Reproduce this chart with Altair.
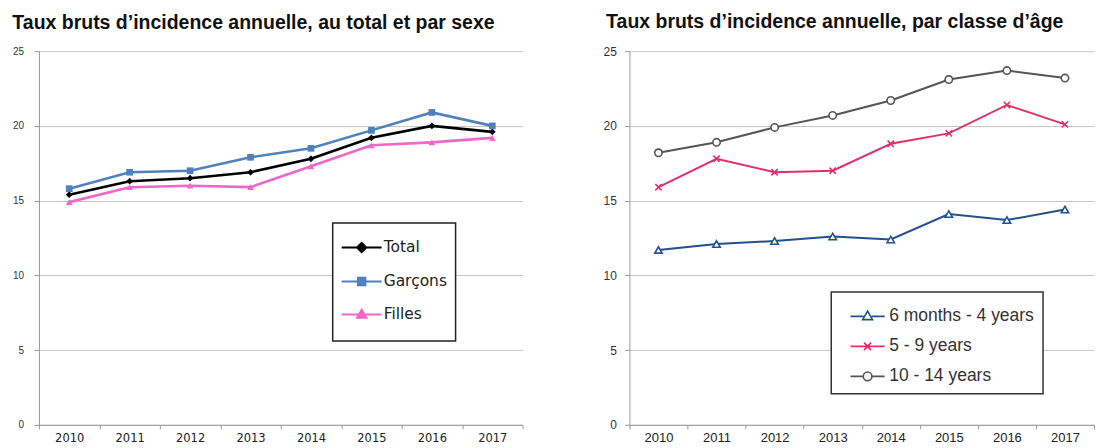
import altair as alt
import pandas as pd

# ---------------- data ----------------
years = ["2010", "2011", "2012", "2013", "2014", "2015", "2016", "2017"]

sex_series = ["Total", "Garçons", "Filles"]
total = [15.4, 16.3, 16.5, 16.9, 17.8, 19.2, 20.0, 19.6]
garcons = [15.8, 16.9, 17.0, 17.9, 18.5, 19.7, 20.9, 20.0]
filles = [14.9, 15.9, 16.0, 15.9, 17.3, 18.7, 18.9, 19.2]

age_series = ["6 months - 4 years", "5 - 9 years", "10 - 14 years"]
age_6m_4y = [11.7, 12.1, 12.3, 12.6, 12.4, 14.1, 13.7, 14.4]
age_5_9 = [15.9, 17.8, 16.9, 17.0, 18.8, 19.5, 21.4, 20.1]
age_10_14 = [18.2, 18.9, 19.9, 20.7, 21.7, 23.1, 23.7, 23.2]

y_ticks = [0, 5, 10, 15, 20, 25]

title_left = "Taux bruts d\u2019incidence annuelle, au total et par sexe"
title_right = "Taux bruts d\u2019incidence annuelle, par classe d\u2019\u00e2ge"

# ---------------- styles ----------------
sex_colors = ["#000000", "#4f81bd", "#f266c8"]
age_colors = ["#23508f", "#e0306a", "#555555"]

sex_point_shapes = ["diamond", "square", "triangle-up"]
X_PATH = "M-1,-1L1,1M-1,1L1,-1"
age_point_shapes = ["triangle-up", X_PATH, "circle"]

# legend symbols: line + marker drawn as one custom path
sex_legend_paths = [
    "M-1,0L1.58,0M0.29,-0.3L0.59,0L0.29,0.3L-0.01,0Z",
    "M-1,0L1.58,0M0.05,-0.24L0.53,-0.24L0.53,0.24L0.05,0.24Z",
    "M-1,0L1.58,0M0.29,-0.3L0.59,0.22L-0.01,0.22Z",
]
age_legend_paths = [
    "M-0.36,0L0.54,0M1.1,0L2.0,0M0.82,-0.36L1.16,0.22L0.48,0.22Z",
    "M-0.36,0L2.0,0M0.58,-0.26L1.06,0.26M0.58,0.26L1.06,-0.26",
    "M-0.36,0L0.52,0M1.12,0L2.0,0M1.12,0A0.3,0.3 0 1,1 0.52,0A0.3,0.3 0 1,1 1.12,0",
]

grid_color = "#c4c4c4"
axis_color = "#9a9a9a"
NBSP = "\u00a0"


def make_df(series_names, arrays):
    rows = []
    for name, vals in zip(series_names, arrays):
        for yr, v in zip(years, vals):
            rows.append({"year": yr, "value": v, "series": name})
    return pd.DataFrame(rows)


df_sex = make_df(sex_series, [total, garcons, filles])
df_age = make_df(age_series, [age_6m_4y, age_5_9, age_10_14])


def x_enc(label_font, label_size, label_padding):
    return alt.X(
        "year:O",
        sort=years,
        scale=alt.Scale(type="band", paddingInner=0, paddingOuter=0),
        axis=alt.Axis(
            title=None, labelAngle=0, tickBand="extent", grid=False,
            domainColor=axis_color, tickColor=axis_color, tickSize=4,
            labelFont=label_font, labelFontSize=label_size, labelColor="#222222",
            labelPadding=label_padding,
        ),
    )


def y_enc(label_size, label_padding):
    return alt.Y(
        "value:Q",
        scale=alt.Scale(domain=[0, 25], nice=False, zero=True),
        axis=alt.Axis(
            title=None, values=y_ticks, grid=True, gridColor=grid_color, gridWidth=1,
            domainColor=axis_color, tickColor=axis_color, tickSize=5,
            labelFont="Liberation Sans", labelFontSize=label_size, labelColor="#333333",
            labelPadding=label_padding,
        ),
    )


# ---------------- left chart ----------------
xl = x_enc("DejaVu Sans", 11.5, 4)
yl = y_enc(10, 10.5)

left_lines = [
    alt.Chart(df_sex).transform_filter(alt.datum.series == s).mark_line(
        strokeWidth=2.6, color=c
    ).encode(x=xl, y=yl)
    for s, c in zip(sex_series, sex_colors)
]
left_points = [
    alt.Chart(df_sex).transform_filter(alt.datum.series == s).mark_point(
        shape=shp, filled=True, size=45, color=c, opacity=1
    ).encode(x=xl, y=yl)
    for s, shp, c in zip(sex_series, sex_point_shapes, sex_colors)
]
sex_legend = alt.Legend(
    title=NBSP, titleOrient="bottom", titleFontSize=6, titlePadding=4,
    orient="none", legendX=294, legendY=172,
    symbolSize=961, symbolStrokeWidth=2, symbolOpacity=1,
    labelFont="DejaVu Sans", labelFontSize=15.5, labelColor="#222222",
    labelOffset=10, padding=8, rowPadding=8,
    strokeColor="#222222", fillColor="white",
)
left_legend = alt.Chart(df_sex).mark_point(
    filled=True, opacity=0
).encode(
    x=xl, y=yl,
    color=alt.Color("series:N", scale=alt.Scale(domain=sex_series, range=sex_colors), legend=sex_legend),
    stroke=alt.Stroke("series:N", scale=alt.Scale(domain=sex_series, range=sex_colors), legend=sex_legend),
    shape=alt.Shape("series:N", scale=alt.Scale(domain=sex_series, range=sex_legend_paths), legend=sex_legend),
)

left = alt.layer(*left_lines, *left_points, left_legend).properties(
    width=484, height=374,
    title=alt.Title(title_left, anchor="start", frame="bounds", font="Liberation Sans",
                    fontSize=19.5, fontWeight="bold", color="#111111", offset=13),
)

# ---------------- right chart ----------------
xr = x_enc("Liberation Sans", 13, 3)
yr = y_enc(12, 8)

right_lines = [
    alt.Chart(df_age).transform_filter(alt.datum.series == s).mark_line(
        strokeWidth=2, color=c
    ).encode(x=xr, y=yr)
    for s, c in zip(age_series, age_colors)
]
right_points = [
    alt.Chart(df_age).transform_filter(alt.datum.series == s).mark_point(
        shape=shp, filled=True, fill="white", stroke=c, strokeWidth=1.6,
        size=(40 if shp == X_PATH else 55), opacity=1
    ).encode(x=xr, y=yr)
    for s, shp, c in zip(age_series, age_point_shapes, age_colors)
]
age_legend = alt.Legend(
    title=None, orient="none", legendX=202, legendY=241,
    symbolSize=841, symbolStrokeWidth=1.6, symbolOpacity=1,
    labelFont="Liberation Sans", labelFontSize=17.5, labelColor="#333333",
    labelOffset=18, padding=9, rowPadding=6,
    strokeColor="#333333", fillColor="white",
)
right_legend = alt.Chart(df_age).mark_point(
    filled=False, opacity=0
).encode(
    x=xr, y=yr,
    color=alt.Color("series:N", scale=alt.Scale(domain=age_series, range=age_colors), legend=age_legend),
    shape=alt.Shape("series:N", scale=alt.Scale(domain=age_series, range=age_legend_paths), legend=age_legend),
)

right = alt.layer(*right_lines, *right_points, right_legend).properties(
    width=465, height=374,
    title=alt.Title(title_right, anchor="start", frame="bounds", font="Liberation Sans",
                    fontSize=19.5, fontWeight="bold", color="#111111", offset=13, dx=3),
)

chart = alt.hconcat(left, right, spacing=79).resolve_scale(
    color="independent", shape="independent", stroke="independent"
).resolve_legend(
    color="independent", shape="independent", stroke="independent"
).properties(
    padding={"left": 4, "top": 3, "right": 0, "bottom": 0},
    background="white",
).configure_view(stroke=None).configure_legend(strokeWidth=1.5)

chart.save("out.html", embed_options={"renderer": "svg", "actions": False})
